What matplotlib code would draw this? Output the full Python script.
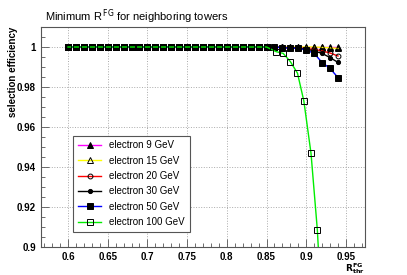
#!/usr/bin/env python3
"""
Selection efficiency vs R_FG threshold for several electron energies.
"""

import matplotlib
matplotlib.use('Agg')
import matplotlib.pyplot as plt
from matplotlib.ticker import MultipleLocator

# Threshold values (common grid)
r_thr = [0.60, 0.61, 0.62, 0.63, 0.64, 0.65, 0.66, 0.67, 0.68, 0.69,
         0.70, 0.71, 0.72, 0.73, 0.74, 0.75, 0.76, 0.77, 0.78, 0.79,
         0.80, 0.81, 0.82, 0.83, 0.84, 0.85, 0.86, 0.87, 0.88, 0.89,
         0.90, 0.91, 0.92, 0.93, 0.94]

# Efficiencies
eff_9 = [1.0] * 35
eff_15 = [1.0] * 32 + [0.9998, 0.9996, 0.9993]
eff_20 = [1.0] * 27 + [0.9998, 0.9997, 0.9995, 0.9992, 0.9988, 0.998, 0.997, 0.9955]
eff_30 = [1.0] * 27 + [0.9997, 0.9996, 0.9994, 0.999, 0.998, 0.9968, 0.9947, 0.9923]
eff_50 = [1.0] * 27 + [0.9997, 0.9995, 0.9993, 0.9985, 0.9968, 0.9922, 0.9893, 0.9847]

# 100 GeV points drift off the common grid near the end
r_thr_100 = r_thr[:26] + [0.862, 0.871, 0.880, 0.889, 0.897, 0.906, 0.914, 0.922]
eff_100 = [1.0] * 26 + [0.9977, 0.9968, 0.9927, 0.9869, 0.973, 0.9469, 0.9085, 0.85]

labels = ['electron 9 GeV', 'electron 15 GeV', 'electron 20 GeV',
          'electron 30 GeV', 'electron 50 GeV', 'electron 100 GeV']

plt.rcParams['font.family'] = ['Liberation Sans', 'DejaVu Sans']

fig = plt.figure(figsize=(4.07, 2.75), dpi=100)
ax = fig.add_axes([0.1007, 0.1018, 0.7961, 0.8])

series = [
    (r_thr, eff_9, '#ff00ff', '^', 'k'),
    (r_thr, eff_15, '#ffff00', '^', 'none'),
    (r_thr, eff_20, '#ff0000', 'o', 'none'),
    (r_thr, eff_30, '#000000', 'o', 'k'),
    (r_thr, eff_50, '#0000ff', 's', 'k'),
    (r_thr_100, eff_100, '#00ee00', 's', 'none'),
]
sizes = [4.0, 4.0, 3.5, 3.0, 4.3, 4.3]

for (xs, ys, col, mk, face), lab, ms in zip(series, labels, sizes):
    ax.plot(xs, ys, color=col, lw=1.0, marker=mk, ms=ms,
            mfc=face, mec='k', mew=0.7, label=lab, clip_on=True)

ax.set_xlim(0.566, 0.974)
ax.set_ylim(0.9, 1.01)

ax.xaxis.set_minor_locator(MultipleLocator(0.01))
ax.yaxis.set_minor_locator(MultipleLocator(0.005))
ax.set_yticks([0.9, 0.92, 0.94, 0.96, 0.98, 1.0])
ax.set_yticklabels(['0.9', '0.92', '0.94', '0.96', '0.98', '1'])
ax.set_xticks([0.6, 0.65, 0.7, 0.75, 0.8, 0.85, 0.9, 0.95])
ax.set_xticklabels(['0.6', '0.65', '0.7', '0.75', '0.8', '0.85', '0.9', '0.95'])

ax.tick_params(which='both', direction='in', top=False, right=False,
               labelsize=7, width=0.6, color='#555555')
ax.tick_params(which='major', length=6)
ax.tick_params(which='minor', length=3)
for lbl in ax.get_xticklabels() + ax.get_yticklabels():
    lbl.set_fontweight('bold')

ax.grid(True, which='major', ls=':', lw=0.7, color='#aaaaaa')
for sp in ax.spines.values():
    sp.set_linewidth(0.8)
    sp.set_color('#555555')

ax.set_ylabel('selection efficiency', fontsize=7, fontweight='bold', loc='top')
ax.yaxis.set_label_coords(-0.072, 1.0)
ax.set_xlabel(r'$\mathbf{R^{FG}_{thr}}$', fontsize=6.5, loc='right')
ax.xaxis.set_label_coords(1.0, -0.065)

fig.text(0.11, 0.925, r'Minimum R$^{\,\mathrm{FG}}$ for neighboring towers', fontsize=8)

leg = ax.legend(loc='lower left', bbox_to_anchor=(0.099, 0.068), borderaxespad=0,
                fontsize=7, handlelength=2.4, labelspacing=0.55, fancybox=False,
                edgecolor='#555555', framealpha=1.0, borderpad=0.5)
leg.get_frame().set_linewidth(0.8)

fig.savefig('out.png', dpi=100)
